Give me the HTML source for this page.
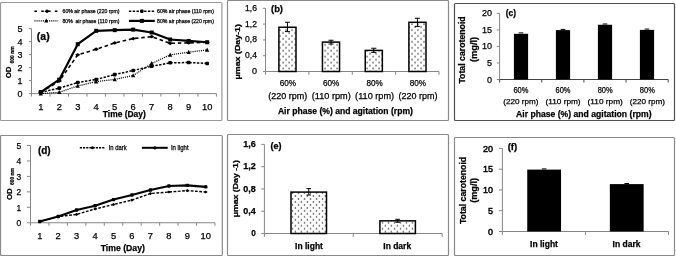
<!DOCTYPE html>
<html><head><meta charset="utf-8"><style>
html,body{margin:0;padding:0;background:#fff;width:676px;height:256px;overflow:hidden;}
svg{display:block;font-family:"Liberation Sans", sans-serif;will-change:transform;}
text{stroke:#000;stroke-width:0.25px;}
</style></head><body>
<svg xmlns="http://www.w3.org/2000/svg" width="676" height="256" viewBox="0 0 676 256">
<rect width="676" height="256" fill="#fff"/>
<rect x="0.50" y="2.50" width="221.40" height="118.00" fill="#fff" stroke="#9a9a9a" stroke-width="1.2" rx="1"/>
<rect x="227.50" y="0.50" width="221.00" height="120.00" fill="#fff" stroke="#8a8a8a" stroke-width="1.2" rx="1"/>
<rect x="454.50" y="3.50" width="220.00" height="117.00" fill="#fff" stroke="#505050" stroke-width="1.2" rx="1"/>
<rect x="0.50" y="135.50" width="221.80" height="120.00" fill="#fff" stroke="#8a8a8a" stroke-width="1.2" rx="1"/>
<rect x="227.50" y="134.50" width="221.00" height="121.00" fill="#fff" stroke="#8a8a8a" stroke-width="1.2" rx="1"/>
<rect x="454.50" y="137.50" width="220.00" height="118.00" fill="#fff" stroke="#8a8a8a" stroke-width="1.2" rx="1"/>
<line x1="31.50" y1="28.60" x2="31.50" y2="93.60" stroke="#868686" stroke-width="1"/>
<line x1="31.50" y1="93.60" x2="216.40" y2="93.60" stroke="#868686" stroke-width="1"/>
<line x1="29.00" y1="28.60" x2="31.50" y2="28.60" stroke="#868686" stroke-width="1"/>
<text x="22.50" y="32.04" font-size="9.6" text-anchor="end" fill="#000" textLength="5.0" lengthAdjust="spacingAndGlyphs">5</text>
<line x1="29.00" y1="41.60" x2="31.50" y2="41.60" stroke="#868686" stroke-width="1"/>
<text x="22.50" y="45.04" font-size="9.6" text-anchor="end" fill="#000" textLength="5.0" lengthAdjust="spacingAndGlyphs">4</text>
<line x1="29.00" y1="54.60" x2="31.50" y2="54.60" stroke="#868686" stroke-width="1"/>
<text x="22.50" y="58.04" font-size="9.6" text-anchor="end" fill="#000" textLength="5.0" lengthAdjust="spacingAndGlyphs">3</text>
<line x1="29.00" y1="67.60" x2="31.50" y2="67.60" stroke="#868686" stroke-width="1"/>
<text x="22.50" y="71.04" font-size="9.6" text-anchor="end" fill="#000" textLength="5.0" lengthAdjust="spacingAndGlyphs">2</text>
<line x1="29.00" y1="80.60" x2="31.50" y2="80.60" stroke="#868686" stroke-width="1"/>
<text x="22.50" y="84.04" font-size="9.6" text-anchor="end" fill="#000" textLength="5.0" lengthAdjust="spacingAndGlyphs">1</text>
<line x1="29.00" y1="93.60" x2="31.50" y2="93.60" stroke="#868686" stroke-width="1"/>
<text x="22.50" y="97.04" font-size="9.6" text-anchor="end" fill="#000" textLength="5.0" lengthAdjust="spacingAndGlyphs">0</text>
<line x1="31.50" y1="93.60" x2="31.50" y2="96.60" stroke="#868686" stroke-width="1"/>
<line x1="49.99" y1="93.60" x2="49.99" y2="96.60" stroke="#868686" stroke-width="1"/>
<line x1="68.48" y1="93.60" x2="68.48" y2="96.60" stroke="#868686" stroke-width="1"/>
<line x1="86.97" y1="93.60" x2="86.97" y2="96.60" stroke="#868686" stroke-width="1"/>
<line x1="105.46" y1="93.60" x2="105.46" y2="96.60" stroke="#868686" stroke-width="1"/>
<line x1="123.95" y1="93.60" x2="123.95" y2="96.60" stroke="#868686" stroke-width="1"/>
<line x1="142.44" y1="93.60" x2="142.44" y2="96.60" stroke="#868686" stroke-width="1"/>
<line x1="160.93" y1="93.60" x2="160.93" y2="96.60" stroke="#868686" stroke-width="1"/>
<line x1="179.42" y1="93.60" x2="179.42" y2="96.60" stroke="#868686" stroke-width="1"/>
<line x1="197.91" y1="93.60" x2="197.91" y2="96.60" stroke="#868686" stroke-width="1"/>
<line x1="216.40" y1="93.60" x2="216.40" y2="96.60" stroke="#868686" stroke-width="1"/>
<text x="40.75" y="109.90" font-size="9.6" text-anchor="middle" fill="#000" textLength="5.2" lengthAdjust="spacingAndGlyphs">1</text>
<text x="59.24" y="109.90" font-size="9.6" text-anchor="middle" fill="#000" textLength="5.2" lengthAdjust="spacingAndGlyphs">2</text>
<text x="77.73" y="109.90" font-size="9.6" text-anchor="middle" fill="#000" textLength="5.2" lengthAdjust="spacingAndGlyphs">3</text>
<text x="96.22" y="109.90" font-size="9.6" text-anchor="middle" fill="#000" textLength="5.2" lengthAdjust="spacingAndGlyphs">4</text>
<text x="114.71" y="109.90" font-size="9.6" text-anchor="middle" fill="#000" textLength="5.2" lengthAdjust="spacingAndGlyphs">5</text>
<text x="133.20" y="109.90" font-size="9.6" text-anchor="middle" fill="#000" textLength="5.2" lengthAdjust="spacingAndGlyphs">6</text>
<text x="151.69" y="109.90" font-size="9.6" text-anchor="middle" fill="#000" textLength="5.2" lengthAdjust="spacingAndGlyphs">7</text>
<text x="170.18" y="109.90" font-size="9.6" text-anchor="middle" fill="#000" textLength="5.2" lengthAdjust="spacingAndGlyphs">8</text>
<text x="188.67" y="109.90" font-size="9.6" text-anchor="middle" fill="#000" textLength="5.2" lengthAdjust="spacingAndGlyphs">9</text>
<text x="207.16" y="109.90" font-size="9.6" text-anchor="middle" fill="#000" textLength="10.4" lengthAdjust="spacingAndGlyphs">10</text>
<polyline points="40.75,93.60 59.24,92.30 77.73,85.93 96.22,81.64 114.71,79.43 133.20,75.53 151.69,63.44 170.18,54.86 188.67,52.13 207.16,49.92" fill="none" stroke="#000" stroke-width="1.2" stroke-linejoin="round" stroke-dasharray="1.1,1"/>
<path d="M38.65,95.40 L40.75,91.20 L42.85,95.40Z" fill="#000"/>
<path d="M57.14,94.10 L59.24,89.90 L61.34,94.10Z" fill="#000"/>
<path d="M75.63,87.73 L77.73,83.53 L79.83,87.73Z" fill="#000"/>
<path d="M94.12,83.44 L96.22,79.24 L98.31,83.44Z" fill="#000"/>
<path d="M112.61,81.23 L114.71,77.03 L116.81,81.23Z" fill="#000"/>
<path d="M131.10,77.33 L133.20,73.13 L135.30,77.33Z" fill="#000"/>
<path d="M149.59,65.24 L151.69,61.04 L153.78,65.24Z" fill="#000"/>
<path d="M168.08,56.66 L170.18,52.46 L172.28,56.66Z" fill="#000"/>
<path d="M186.57,53.93 L188.67,49.73 L190.77,53.93Z" fill="#000"/>
<path d="M205.06,51.72 L207.16,47.52 L209.26,51.72Z" fill="#000"/>
<polyline points="40.75,92.30 59.24,88.14 77.73,82.55 96.22,79.43 114.71,74.62 133.20,70.46 151.69,66.30 170.18,62.79 188.67,62.53 207.16,63.44" fill="none" stroke="#000" stroke-width="1.5" stroke-linejoin="round" stroke-dasharray="2.4,1.4"/>
<rect x="38.95" y="90.50" width="3.60" height="3.60" fill="#000" rx="0.8"/>
<rect x="57.44" y="86.34" width="3.60" height="3.60" fill="#000" rx="0.8"/>
<rect x="75.93" y="80.75" width="3.60" height="3.60" fill="#000" rx="0.8"/>
<rect x="94.42" y="77.63" width="3.60" height="3.60" fill="#000" rx="0.8"/>
<rect x="112.91" y="72.82" width="3.60" height="3.60" fill="#000" rx="0.8"/>
<rect x="131.40" y="68.66" width="3.60" height="3.60" fill="#000" rx="0.8"/>
<rect x="149.88" y="64.50" width="3.60" height="3.60" fill="#000" rx="0.8"/>
<rect x="168.38" y="60.99" width="3.60" height="3.60" fill="#000" rx="0.8"/>
<rect x="186.87" y="60.73" width="3.60" height="3.60" fill="#000" rx="0.8"/>
<rect x="205.36" y="61.64" width="3.60" height="3.60" fill="#000" rx="0.8"/>
<polyline points="40.75,92.30 59.24,81.12 77.73,54.86 96.22,49.27 114.71,42.90 133.20,38.61 151.69,36.66 170.18,43.29 188.67,42.90 207.16,42.25" fill="none" stroke="#000" stroke-width="1.6" stroke-linejoin="round" stroke-dasharray="3.5,2.8"/>
<path d="M38.15,92.30 L40.45,90.60 L41.05,90.60 L43.35,92.30 L41.05,94.00 L40.45,94.00Z" fill="#000"/>
<path d="M56.64,81.12 L58.94,79.42 L59.54,79.42 L61.84,81.12 L59.54,82.82 L58.94,82.82Z" fill="#000"/>
<path d="M75.13,54.86 L77.43,53.16 L78.03,53.16 L80.33,54.86 L78.03,56.56 L77.43,56.56Z" fill="#000"/>
<path d="M93.62,49.27 L95.92,47.57 L96.52,47.57 L98.81,49.27 L96.52,50.97 L95.92,50.97Z" fill="#000"/>
<path d="M112.11,42.90 L114.41,41.20 L115.01,41.20 L117.31,42.90 L115.01,44.60 L114.41,44.60Z" fill="#000"/>
<path d="M130.60,38.61 L132.90,36.91 L133.50,36.91 L135.80,38.61 L133.50,40.31 L132.90,40.31Z" fill="#000"/>
<path d="M149.09,36.66 L151.38,34.96 L151.99,34.96 L154.28,36.66 L151.99,38.36 L151.38,38.36Z" fill="#000"/>
<path d="M167.58,43.29 L169.88,41.59 L170.48,41.59 L172.78,43.29 L170.48,44.99 L169.88,44.99Z" fill="#000"/>
<path d="M186.07,42.90 L188.37,41.20 L188.97,41.20 L191.27,42.90 L188.97,44.60 L188.37,44.60Z" fill="#000"/>
<path d="M204.56,42.25 L206.86,40.55 L207.46,40.55 L209.76,42.25 L207.46,43.95 L206.86,43.95Z" fill="#000"/>
<polyline points="40.75,92.04 59.24,79.69 77.73,44.20 96.22,30.81 114.71,30.16 133.20,29.64 151.69,32.50 170.18,39.52 188.67,40.95 207.16,42.25" fill="none" stroke="#000" stroke-width="2.2" stroke-linejoin="round"/>
<rect x="38.75" y="90.04" width="4.00" height="4.00" fill="#000"/>
<rect x="57.24" y="77.69" width="4.00" height="4.00" fill="#000"/>
<rect x="75.73" y="42.20" width="4.00" height="4.00" fill="#000"/>
<rect x="94.22" y="28.81" width="4.00" height="4.00" fill="#000"/>
<rect x="112.71" y="28.16" width="4.00" height="4.00" fill="#000"/>
<rect x="131.20" y="27.64" width="4.00" height="4.00" fill="#000"/>
<rect x="149.69" y="30.50" width="4.00" height="4.00" fill="#000"/>
<rect x="168.18" y="37.52" width="4.00" height="4.00" fill="#000"/>
<rect x="186.67" y="38.95" width="4.00" height="4.00" fill="#000"/>
<rect x="205.16" y="40.25" width="4.00" height="4.00" fill="#000"/>
<text x="43.25" y="39.60" font-size="10.5" text-anchor="middle" fill="#000" font-weight="bold" textLength="12.8" lengthAdjust="spacingAndGlyphs">(a)</text>
<text x="124.30" y="116.60" font-size="9" text-anchor="middle" fill="#000" font-weight="bold" textLength="43" lengthAdjust="spacingAndGlyphs">Time (Day)</text>
<text x="11.50" y="78.30" font-size="8" text-anchor="start" fill="#000" font-weight="bold" textLength="11.7" lengthAdjust="spacingAndGlyphs" transform="rotate(-90 11.50 78.30)">OD</text>
<text x="13.60" y="63.40" font-size="5.5" text-anchor="start" fill="#000" font-weight="bold" textLength="17" lengthAdjust="spacingAndGlyphs" transform="rotate(-90 13.60 63.40)">600 nm</text>
<line x1="34.40" y1="11.20" x2="58.10" y2="11.20" stroke="#000" stroke-width="1.6" stroke-dasharray="2.6,4.2"/>
<path d="M44.40,11.20 L46.70,9.50 L47.30,9.50 L49.60,11.20 L47.30,12.90 L46.70,12.90Z" fill="#000"/>
<text x="62.50" y="13.10" font-size="5.5" text-anchor="start" fill="#000" textLength="57.0" lengthAdjust="spacingAndGlyphs">60% air phase (220 rpm)</text>
<line x1="34.40" y1="20.90" x2="58.10" y2="20.90" stroke="#000" stroke-width="1.2" stroke-dasharray="1.1,1"/>
<path d="M44.25,22.60 L46.25,18.60 L48.25,22.60Z" fill="#000"/>
<text x="62.50" y="22.80" font-size="5.5" text-anchor="start" fill="#000" textLength="57.0" lengthAdjust="spacingAndGlyphs">80%&#160; air phase (110 rpm)</text>
<line x1="128.90" y1="11.20" x2="154.80" y2="11.20" stroke="#000" stroke-width="1.5" stroke-dasharray="2.4,1.4"/>
<rect x="140.15" y="9.50" width="3.40" height="3.40" fill="#000" rx="0.8"/>
<text x="157.00" y="13.10" font-size="5.5" text-anchor="start" fill="#000" textLength="56.900000000000006" lengthAdjust="spacingAndGlyphs">60% air phase (110 rpm)</text>
<line x1="128.90" y1="20.90" x2="154.80" y2="20.90" stroke="#000" stroke-width="2.2"/>
<rect x="139.85" y="18.90" width="4.00" height="4.00" fill="#000"/>
<text x="157.00" y="22.80" font-size="5.5" text-anchor="start" fill="#000" textLength="56.900000000000006" lengthAdjust="spacingAndGlyphs">80% air phase (220 rpm)</text>
<line x1="30.50" y1="145.50" x2="30.50" y2="222.75" stroke="#868686" stroke-width="1"/>
<line x1="30.50" y1="222.75" x2="215.00" y2="222.75" stroke="#868686" stroke-width="1"/>
<line x1="26.90" y1="145.50" x2="30.50" y2="145.50" stroke="#868686" stroke-width="1"/>
<text x="21.20" y="148.94" font-size="9.6" text-anchor="end" fill="#000" textLength="4.7" lengthAdjust="spacingAndGlyphs">5</text>
<line x1="26.90" y1="160.95" x2="30.50" y2="160.95" stroke="#868686" stroke-width="1"/>
<text x="21.20" y="164.39" font-size="9.6" text-anchor="end" fill="#000" textLength="4.7" lengthAdjust="spacingAndGlyphs">4</text>
<line x1="26.90" y1="176.40" x2="30.50" y2="176.40" stroke="#868686" stroke-width="1"/>
<text x="21.20" y="179.84" font-size="9.6" text-anchor="end" fill="#000" textLength="4.7" lengthAdjust="spacingAndGlyphs">3</text>
<line x1="26.90" y1="191.85" x2="30.50" y2="191.85" stroke="#868686" stroke-width="1"/>
<text x="21.20" y="195.29" font-size="9.6" text-anchor="end" fill="#000" textLength="4.7" lengthAdjust="spacingAndGlyphs">2</text>
<line x1="26.90" y1="207.30" x2="30.50" y2="207.30" stroke="#868686" stroke-width="1"/>
<text x="21.20" y="210.74" font-size="9.6" text-anchor="end" fill="#000" textLength="4.7" lengthAdjust="spacingAndGlyphs">1</text>
<line x1="26.90" y1="222.75" x2="30.50" y2="222.75" stroke="#868686" stroke-width="1"/>
<text x="21.20" y="226.19" font-size="9.6" text-anchor="end" fill="#000" textLength="4.7" lengthAdjust="spacingAndGlyphs">0</text>
<line x1="30.50" y1="222.75" x2="30.50" y2="225.75" stroke="#868686" stroke-width="1"/>
<line x1="48.95" y1="222.75" x2="48.95" y2="225.75" stroke="#868686" stroke-width="1"/>
<line x1="67.40" y1="222.75" x2="67.40" y2="225.75" stroke="#868686" stroke-width="1"/>
<line x1="85.85" y1="222.75" x2="85.85" y2="225.75" stroke="#868686" stroke-width="1"/>
<line x1="104.30" y1="222.75" x2="104.30" y2="225.75" stroke="#868686" stroke-width="1"/>
<line x1="122.75" y1="222.75" x2="122.75" y2="225.75" stroke="#868686" stroke-width="1"/>
<line x1="141.20" y1="222.75" x2="141.20" y2="225.75" stroke="#868686" stroke-width="1"/>
<line x1="159.65" y1="222.75" x2="159.65" y2="225.75" stroke="#868686" stroke-width="1"/>
<line x1="178.10" y1="222.75" x2="178.10" y2="225.75" stroke="#868686" stroke-width="1"/>
<line x1="196.55" y1="222.75" x2="196.55" y2="225.75" stroke="#868686" stroke-width="1"/>
<line x1="215.00" y1="222.75" x2="215.00" y2="225.75" stroke="#868686" stroke-width="1"/>
<text x="39.73" y="238.90" font-size="9.6" text-anchor="middle" fill="#000" textLength="5.2" lengthAdjust="spacingAndGlyphs">1</text>
<text x="58.17" y="238.90" font-size="9.6" text-anchor="middle" fill="#000" textLength="5.2" lengthAdjust="spacingAndGlyphs">2</text>
<text x="76.62" y="238.90" font-size="9.6" text-anchor="middle" fill="#000" textLength="5.2" lengthAdjust="spacingAndGlyphs">3</text>
<text x="95.07" y="238.90" font-size="9.6" text-anchor="middle" fill="#000" textLength="5.2" lengthAdjust="spacingAndGlyphs">4</text>
<text x="113.53" y="238.90" font-size="9.6" text-anchor="middle" fill="#000" textLength="5.2" lengthAdjust="spacingAndGlyphs">5</text>
<text x="131.97" y="238.90" font-size="9.6" text-anchor="middle" fill="#000" textLength="5.2" lengthAdjust="spacingAndGlyphs">6</text>
<text x="150.42" y="238.90" font-size="9.6" text-anchor="middle" fill="#000" textLength="5.2" lengthAdjust="spacingAndGlyphs">7</text>
<text x="168.88" y="238.90" font-size="9.6" text-anchor="middle" fill="#000" textLength="5.2" lengthAdjust="spacingAndGlyphs">8</text>
<text x="187.32" y="238.90" font-size="9.6" text-anchor="middle" fill="#000" textLength="5.2" lengthAdjust="spacingAndGlyphs">9</text>
<text x="205.77" y="238.90" font-size="9.6" text-anchor="middle" fill="#000" textLength="10.4" lengthAdjust="spacingAndGlyphs">10</text>
<polyline points="39.73,221.51 58.17,216.57 76.62,214.41 95.07,209.00 113.53,204.52 131.97,200.04 150.42,193.55 168.88,192.00 187.32,190.61 205.77,192.00" fill="none" stroke="#000" stroke-width="1.4" stroke-linejoin="round" stroke-dasharray="2.8,1.5"/>
<path d="M37.83,221.51 L39.73,219.91 L41.62,221.51 L39.73,223.11Z" fill="#000"/>
<path d="M56.27,216.57 L58.17,214.97 L60.07,216.57 L58.17,218.17Z" fill="#000"/>
<path d="M74.73,214.41 L76.62,212.81 L78.52,214.41 L76.62,216.01Z" fill="#000"/>
<path d="M93.17,209.00 L95.07,207.40 L96.97,209.00 L95.07,210.60Z" fill="#000"/>
<path d="M111.63,204.52 L113.53,202.92 L115.42,204.52 L113.53,206.12Z" fill="#000"/>
<path d="M130.07,200.04 L131.97,198.44 L133.88,200.04 L131.97,201.64Z" fill="#000"/>
<path d="M148.52,193.55 L150.42,191.95 L152.32,193.55 L150.42,195.15Z" fill="#000"/>
<path d="M166.97,192.00 L168.88,190.40 L170.78,192.00 L168.88,193.60Z" fill="#000"/>
<path d="M185.42,190.61 L187.32,189.01 L189.22,190.61 L187.32,192.21Z" fill="#000"/>
<path d="M203.87,192.00 L205.77,190.40 L207.67,192.00 L205.77,193.60Z" fill="#000"/>
<polyline points="39.73,221.51 58.17,216.57 76.62,209.93 95.07,205.75 113.53,199.57 131.97,194.94 150.42,190.00 168.88,185.98 187.32,185.36 205.77,186.91" fill="none" stroke="#000" stroke-width="2.1" stroke-linejoin="round"/>
<rect x="38.02" y="219.81" width="3.40" height="3.40" fill="#000" rx="0.8"/>
<rect x="56.47" y="214.87" width="3.40" height="3.40" fill="#000" rx="0.8"/>
<rect x="74.92" y="208.23" width="3.40" height="3.40" fill="#000" rx="0.8"/>
<rect x="93.37" y="204.06" width="3.40" height="3.40" fill="#000" rx="0.8"/>
<rect x="111.83" y="197.88" width="3.40" height="3.40" fill="#000" rx="0.8"/>
<rect x="130.28" y="193.24" width="3.40" height="3.40" fill="#000" rx="0.8"/>
<rect x="148.72" y="188.30" width="3.40" height="3.40" fill="#000" rx="0.8"/>
<rect x="167.18" y="184.28" width="3.40" height="3.40" fill="#000" rx="0.8"/>
<rect x="185.62" y="183.66" width="3.40" height="3.40" fill="#000" rx="0.8"/>
<rect x="204.07" y="185.21" width="3.40" height="3.40" fill="#000" rx="0.8"/>
<text x="44.30" y="154.40" font-size="10.8" text-anchor="middle" fill="#000" font-weight="bold" textLength="12.8" lengthAdjust="spacingAndGlyphs">(d)</text>
<text x="122.80" y="250.70" font-size="9" text-anchor="middle" fill="#000" font-weight="bold" textLength="44.3" lengthAdjust="spacingAndGlyphs">Time (Day)</text>
<text x="11.50" y="200.00" font-size="8" text-anchor="start" fill="#000" font-weight="bold" textLength="11.7" lengthAdjust="spacingAndGlyphs" transform="rotate(-90 11.50 200.00)">OD</text>
<text x="13.60" y="185.00" font-size="5.5" text-anchor="start" fill="#000" font-weight="bold" textLength="17" lengthAdjust="spacingAndGlyphs" transform="rotate(-90 13.60 185.00)">600 nm</text>
<line x1="79.80" y1="147.80" x2="105.00" y2="147.80" stroke="#000" stroke-width="1.5" stroke-dasharray="2.2,1"/>
<circle cx="92.40" cy="147.80" r="1.50" fill="#000"/>
<text x="108.70" y="150.00" font-size="6.5" text-anchor="start" fill="#000" textLength="17.89999999999999" lengthAdjust="spacingAndGlyphs">In dark</text>
<line x1="141.90" y1="147.80" x2="167.70" y2="147.80" stroke="#000" stroke-width="2"/>
<circle cx="154.80" cy="147.80" r="1.60" fill="#000"/>
<text x="170.90" y="150.00" font-size="6.5" text-anchor="start" fill="#000" textLength="17.69999999999999" lengthAdjust="spacingAndGlyphs">In light</text>
<defs><pattern id="dots" width="6" height="5.94" patternUnits="userSpaceOnUse"><rect x="3.3" y="-0.35" width="1.4" height="1.4" fill="#444"/><rect x="3.3" y="5.59" width="1.4" height="1.4" fill="#444"/><rect x="0.4" y="2.55" width="1.4" height="1.4" fill="#444"/></pattern><pattern id="dots2" width="6" height="5.94" patternUnits="userSpaceOnUse"><rect x="0.7" y="-0.7" width="1.4" height="1.4" fill="#444"/><rect x="0.7" y="5.24" width="1.4" height="1.4" fill="#444"/><rect x="3.8" y="2.27" width="1.4" height="1.4" fill="#444"/></pattern></defs>
<line x1="265.50" y1="8.30" x2="265.50" y2="71.50" stroke="#868686" stroke-width="1"/>
<line x1="265.50" y1="71.50" x2="439.00" y2="71.50" stroke="#868686" stroke-width="1"/>
<line x1="263.00" y1="8.30" x2="265.50" y2="8.30" stroke="#868686" stroke-width="1"/>
<text x="256.90" y="10.70" font-size="9" text-anchor="end" fill="#000" textLength="11.9" lengthAdjust="spacingAndGlyphs">1,6</text>
<line x1="263.00" y1="24.10" x2="265.50" y2="24.10" stroke="#868686" stroke-width="1"/>
<text x="256.90" y="26.50" font-size="9" text-anchor="end" fill="#000" textLength="11.9" lengthAdjust="spacingAndGlyphs">1,2</text>
<line x1="263.00" y1="39.90" x2="265.50" y2="39.90" stroke="#868686" stroke-width="1"/>
<text x="256.90" y="42.30" font-size="9" text-anchor="end" fill="#000" textLength="11.9" lengthAdjust="spacingAndGlyphs">0,8</text>
<line x1="263.00" y1="55.70" x2="265.50" y2="55.70" stroke="#868686" stroke-width="1"/>
<text x="256.90" y="58.10" font-size="9" text-anchor="end" fill="#000" textLength="11.9" lengthAdjust="spacingAndGlyphs">0,4</text>
<line x1="263.00" y1="71.50" x2="265.50" y2="71.50" stroke="#868686" stroke-width="1"/>
<text x="256.90" y="73.90" font-size="9" text-anchor="end" fill="#000">0</text>
<line x1="265.50" y1="71.50" x2="265.50" y2="74.80" stroke="#868686" stroke-width="1"/>
<line x1="308.88" y1="71.50" x2="308.88" y2="74.80" stroke="#868686" stroke-width="1"/>
<line x1="352.25" y1="71.50" x2="352.25" y2="74.80" stroke="#868686" stroke-width="1"/>
<line x1="395.62" y1="71.50" x2="395.62" y2="74.80" stroke="#868686" stroke-width="1"/>
<line x1="439.00" y1="71.50" x2="439.00" y2="74.80" stroke="#868686" stroke-width="1"/>
<rect x="278.90" y="27.25" width="17.10" height="44.25" fill="url(#dots)" stroke="#000" stroke-width="1.5"/>
<line x1="287.45" y1="22.25" x2="287.45" y2="31.60" stroke="#000" stroke-width="1"/>
<line x1="284.95" y1="22.25" x2="289.95" y2="22.25" stroke="#000" stroke-width="1"/>
<line x1="284.95" y1="31.60" x2="289.95" y2="31.60" stroke="#000" stroke-width="1"/>
<rect x="322.45" y="42.10" width="17.10" height="29.40" fill="url(#dots)" stroke="#000" stroke-width="1.5"/>
<line x1="331.00" y1="40.25" x2="331.00" y2="44.00" stroke="#000" stroke-width="1"/>
<line x1="328.50" y1="40.25" x2="333.50" y2="40.25" stroke="#000" stroke-width="1"/>
<line x1="328.50" y1="44.00" x2="333.50" y2="44.00" stroke="#000" stroke-width="1"/>
<rect x="365.25" y="50.40" width="17.10" height="21.10" fill="url(#dots)" stroke="#000" stroke-width="1.5"/>
<line x1="373.80" y1="48.25" x2="373.80" y2="52.40" stroke="#000" stroke-width="1"/>
<line x1="371.30" y1="48.25" x2="376.30" y2="48.25" stroke="#000" stroke-width="1"/>
<line x1="371.30" y1="52.40" x2="376.30" y2="52.40" stroke="#000" stroke-width="1"/>
<rect x="408.90" y="22.30" width="17.10" height="49.20" fill="url(#dots)" stroke="#000" stroke-width="1.5"/>
<line x1="417.45" y1="18.25" x2="417.45" y2="26.40" stroke="#000" stroke-width="1"/>
<line x1="414.95" y1="18.25" x2="419.95" y2="18.25" stroke="#000" stroke-width="1"/>
<line x1="414.95" y1="26.40" x2="419.95" y2="26.40" stroke="#000" stroke-width="1"/>
<text x="287.84" y="86.00" font-size="9" text-anchor="middle" fill="#000" textLength="16.4" lengthAdjust="spacingAndGlyphs">60%</text>
<text x="287.84" y="99.10" font-size="9" text-anchor="middle" fill="#000" textLength="39.0" lengthAdjust="spacingAndGlyphs">(220 rpm)</text>
<text x="331.21" y="86.00" font-size="9" text-anchor="middle" fill="#000" textLength="16.4" lengthAdjust="spacingAndGlyphs">60%</text>
<text x="331.21" y="99.10" font-size="9" text-anchor="middle" fill="#000" textLength="39.0" lengthAdjust="spacingAndGlyphs">(110 rpm)</text>
<text x="374.59" y="86.00" font-size="9" text-anchor="middle" fill="#000" textLength="16.4" lengthAdjust="spacingAndGlyphs">80%</text>
<text x="374.59" y="99.10" font-size="9" text-anchor="middle" fill="#000" textLength="39.0" lengthAdjust="spacingAndGlyphs">(110 rpm)</text>
<text x="417.96" y="86.00" font-size="9" text-anchor="middle" fill="#000" textLength="16.4" lengthAdjust="spacingAndGlyphs">80%</text>
<text x="417.96" y="99.10" font-size="9" text-anchor="middle" fill="#000" textLength="39.0" lengthAdjust="spacingAndGlyphs">(220 rpm)</text>
<text x="345.40" y="114.30" font-size="9" text-anchor="middle" fill="#000" font-weight="bold" textLength="135" lengthAdjust="spacingAndGlyphs">Air phase (%) and agitation (rpm)</text>
<text x="277.00" y="11.80" font-size="9.3" text-anchor="middle" fill="#000" font-weight="bold" textLength="12.0" lengthAdjust="spacingAndGlyphs">(b)</text>
<text x="240.00" y="79.60" font-size="7.8" text-anchor="start" fill="#000" font-weight="bold" textLength="55.6" lengthAdjust="spacingAndGlyphs" transform="rotate(-90 240.00 79.60)">μmax (Day-1)</text>
<line x1="264.40" y1="144.40" x2="264.40" y2="233.50" stroke="#868686" stroke-width="1"/>
<line x1="264.40" y1="233.50" x2="442.20" y2="233.50" stroke="#868686" stroke-width="1"/>
<line x1="261.30" y1="144.40" x2="264.40" y2="144.40" stroke="#868686" stroke-width="1"/>
<text x="255.80" y="147.20" font-size="8.2" text-anchor="end" fill="#000" font-weight="bold" textLength="12.5" lengthAdjust="spacingAndGlyphs">1,6</text>
<line x1="261.30" y1="166.68" x2="264.40" y2="166.68" stroke="#868686" stroke-width="1"/>
<text x="255.80" y="169.48" font-size="8.2" text-anchor="end" fill="#000" font-weight="bold" textLength="12.5" lengthAdjust="spacingAndGlyphs">1,2</text>
<line x1="261.30" y1="188.95" x2="264.40" y2="188.95" stroke="#868686" stroke-width="1"/>
<text x="255.80" y="191.75" font-size="8.2" text-anchor="end" fill="#000" font-weight="bold" textLength="12.5" lengthAdjust="spacingAndGlyphs">0,8</text>
<line x1="261.30" y1="211.22" x2="264.40" y2="211.22" stroke="#868686" stroke-width="1"/>
<text x="255.80" y="214.03" font-size="8.2" text-anchor="end" fill="#000" font-weight="bold" textLength="12.5" lengthAdjust="spacingAndGlyphs">0,4</text>
<line x1="261.30" y1="233.50" x2="264.40" y2="233.50" stroke="#868686" stroke-width="1"/>
<text x="255.80" y="236.30" font-size="8.2" text-anchor="end" fill="#000" font-weight="bold">0</text>
<line x1="264.40" y1="233.50" x2="264.40" y2="236.80" stroke="#868686" stroke-width="1"/>
<line x1="353.30" y1="233.50" x2="353.30" y2="236.80" stroke="#868686" stroke-width="1"/>
<line x1="442.20" y1="233.50" x2="442.20" y2="236.80" stroke="#868686" stroke-width="1"/>
<rect x="291.00" y="192.10" width="35.50" height="41.40" fill="url(#dots2)" stroke="#000" stroke-width="1.5"/>
<line x1="308.75" y1="188.60" x2="308.75" y2="195.00" stroke="#000" stroke-width="1"/>
<line x1="306.50" y1="188.60" x2="311.00" y2="188.60" stroke="#000" stroke-width="1"/>
<line x1="306.50" y1="195.00" x2="311.00" y2="195.00" stroke="#000" stroke-width="1"/>
<rect x="379.90" y="220.85" width="35.50" height="12.65" fill="url(#dots2)" stroke="#000" stroke-width="1.5"/>
<line x1="397.65" y1="219.30" x2="397.65" y2="222.30" stroke="#000" stroke-width="1"/>
<line x1="395.40" y1="219.30" x2="399.90" y2="219.30" stroke="#000" stroke-width="1"/>
<line x1="395.40" y1="222.30" x2="399.90" y2="222.30" stroke="#000" stroke-width="1"/>
<text x="309.00" y="248.50" font-size="8.5" text-anchor="middle" fill="#000" font-weight="bold" textLength="27.8" lengthAdjust="spacingAndGlyphs">In light</text>
<text x="397.20" y="248.50" font-size="8.5" text-anchor="middle" fill="#000" font-weight="bold" textLength="27.8" lengthAdjust="spacingAndGlyphs">In dark</text>
<text x="276.00" y="148.50" font-size="9" text-anchor="middle" fill="#000" font-weight="bold" textLength="11.0" lengthAdjust="spacingAndGlyphs">(e)</text>
<text x="238.00" y="217.30" font-size="7.8" text-anchor="start" fill="#000" font-weight="bold" textLength="57.1" lengthAdjust="spacingAndGlyphs" transform="rotate(-90 238.00 217.30)">μmax (Day -1)</text>
<line x1="499.60" y1="13.40" x2="499.60" y2="79.50" stroke="#868686" stroke-width="1"/>
<line x1="499.60" y1="79.50" x2="668.20" y2="79.50" stroke="#444" stroke-width="1"/>
<line x1="496.80" y1="13.40" x2="499.60" y2="13.40" stroke="#868686" stroke-width="1"/>
<text x="492.10" y="16.40" font-size="9" text-anchor="end" fill="#000">20</text>
<line x1="496.80" y1="29.92" x2="499.60" y2="29.92" stroke="#868686" stroke-width="1"/>
<text x="492.10" y="32.92" font-size="9" text-anchor="end" fill="#000">15</text>
<line x1="496.80" y1="46.45" x2="499.60" y2="46.45" stroke="#868686" stroke-width="1"/>
<text x="492.10" y="49.45" font-size="9" text-anchor="end" fill="#000">10</text>
<line x1="496.80" y1="62.97" x2="499.60" y2="62.97" stroke="#868686" stroke-width="1"/>
<text x="492.10" y="65.97" font-size="9" text-anchor="end" fill="#000">5</text>
<line x1="496.80" y1="79.50" x2="499.60" y2="79.50" stroke="#868686" stroke-width="1"/>
<text x="492.10" y="82.50" font-size="9" text-anchor="end" fill="#000">0</text>
<line x1="499.60" y1="79.50" x2="499.60" y2="82.50" stroke="#444" stroke-width="1"/>
<line x1="541.75" y1="79.50" x2="541.75" y2="82.50" stroke="#444" stroke-width="1"/>
<line x1="583.90" y1="79.50" x2="583.90" y2="82.50" stroke="#444" stroke-width="1"/>
<line x1="626.05" y1="79.50" x2="626.05" y2="82.50" stroke="#444" stroke-width="1"/>
<line x1="668.20" y1="79.50" x2="668.20" y2="82.50" stroke="#444" stroke-width="1"/>
<rect x="513.90" y="33.80" width="14.20" height="45.70" fill="#000"/>
<line x1="518.70" y1="32.90" x2="523.30" y2="32.90" stroke="#000" stroke-width="1"/>
<rect x="555.90" y="30.10" width="14.20" height="49.40" fill="#000"/>
<line x1="560.70" y1="29.40" x2="565.30" y2="29.40" stroke="#000" stroke-width="1"/>
<rect x="597.90" y="24.75" width="14.20" height="54.75" fill="#000"/>
<line x1="602.70" y1="24.00" x2="607.30" y2="24.00" stroke="#000" stroke-width="1"/>
<rect x="639.90" y="29.90" width="14.20" height="49.60" fill="#000"/>
<line x1="644.70" y1="29.10" x2="649.30" y2="29.10" stroke="#000" stroke-width="1"/>
<text x="520.88" y="93.30" font-size="8.6" text-anchor="middle" fill="#000" textLength="15" lengthAdjust="spacingAndGlyphs">60%</text>
<text x="520.88" y="103.60" font-size="8" text-anchor="middle" fill="#000" textLength="35.2" lengthAdjust="spacingAndGlyphs">(220 rpm)</text>
<text x="563.03" y="93.30" font-size="8.6" text-anchor="middle" fill="#000" textLength="15" lengthAdjust="spacingAndGlyphs">60%</text>
<text x="563.03" y="103.60" font-size="8" text-anchor="middle" fill="#000" textLength="35.2" lengthAdjust="spacingAndGlyphs">(110 rpm)</text>
<text x="605.18" y="93.30" font-size="8.6" text-anchor="middle" fill="#000" textLength="15" lengthAdjust="spacingAndGlyphs">80%</text>
<text x="605.18" y="103.60" font-size="8" text-anchor="middle" fill="#000" textLength="35.2" lengthAdjust="spacingAndGlyphs">(110 rpm)</text>
<text x="647.33" y="93.30" font-size="8.6" text-anchor="middle" fill="#000" textLength="15" lengthAdjust="spacingAndGlyphs">80%</text>
<text x="647.33" y="103.60" font-size="8" text-anchor="middle" fill="#000" textLength="35.2" lengthAdjust="spacingAndGlyphs">(220 rpm)</text>
<text x="583.80" y="117.20" font-size="9" text-anchor="middle" fill="#000" font-weight="bold" textLength="135.5" lengthAdjust="spacingAndGlyphs">Air phase (%) and agitation (rpm)</text>
<text x="510.90" y="15.90" font-size="9" text-anchor="middle" fill="#000" font-weight="bold" textLength="10.2" lengthAdjust="spacingAndGlyphs">(c)</text>
<text x="465.50" y="83.60" font-size="9" text-anchor="start" fill="#000" font-weight="bold" textLength="67.3" lengthAdjust="spacingAndGlyphs" transform="rotate(-90 465.50 83.60)">Total carotenoid</text>
<text x="476.70" y="62.00" font-size="9" text-anchor="start" fill="#000" font-weight="bold" textLength="25.2" lengthAdjust="spacingAndGlyphs" transform="rotate(-90 476.70 62.00)">(mg/l)</text>
<line x1="502.40" y1="148.40" x2="502.40" y2="231.50" stroke="#868686" stroke-width="1"/>
<line x1="502.40" y1="231.50" x2="668.50" y2="231.50" stroke="#868686" stroke-width="1"/>
<line x1="499.00" y1="148.40" x2="502.40" y2="148.40" stroke="#868686" stroke-width="1"/>
<text x="493.00" y="151.60" font-size="9" text-anchor="end" fill="#000" style="stroke-width:0.45px">20</text>
<line x1="499.00" y1="169.18" x2="502.40" y2="169.18" stroke="#868686" stroke-width="1"/>
<text x="493.00" y="172.38" font-size="9" text-anchor="end" fill="#000" style="stroke-width:0.45px">15</text>
<line x1="499.00" y1="189.95" x2="502.40" y2="189.95" stroke="#868686" stroke-width="1"/>
<text x="493.00" y="193.15" font-size="9" text-anchor="end" fill="#000" style="stroke-width:0.45px">10</text>
<line x1="499.00" y1="210.72" x2="502.40" y2="210.72" stroke="#868686" stroke-width="1"/>
<text x="493.00" y="213.92" font-size="9" text-anchor="end" fill="#000" style="stroke-width:0.45px">5</text>
<line x1="499.00" y1="231.50" x2="502.40" y2="231.50" stroke="#868686" stroke-width="1"/>
<text x="493.00" y="234.70" font-size="9" text-anchor="end" fill="#000" style="stroke-width:0.45px">0</text>
<line x1="502.40" y1="231.50" x2="502.40" y2="235.00" stroke="#868686" stroke-width="1"/>
<line x1="585.45" y1="231.50" x2="585.45" y2="235.00" stroke="#868686" stroke-width="1"/>
<line x1="668.50" y1="231.50" x2="668.50" y2="235.00" stroke="#868686" stroke-width="1"/>
<rect x="527.25" y="169.60" width="33.80" height="61.90" fill="#000"/>
<line x1="541.85" y1="168.90" x2="546.45" y2="168.90" stroke="#000" stroke-width="1"/>
<rect x="609.85" y="184.10" width="33.80" height="47.40" fill="#000"/>
<line x1="624.45" y1="183.50" x2="629.05" y2="183.50" stroke="#000" stroke-width="1"/>
<text x="544.00" y="247.00" font-size="8.5" text-anchor="middle" fill="#000" font-weight="bold" textLength="27.8" lengthAdjust="spacingAndGlyphs">In light</text>
<text x="626.50" y="247.00" font-size="8.5" text-anchor="middle" fill="#000" font-weight="bold" textLength="27.8" lengthAdjust="spacingAndGlyphs">In dark</text>
<text x="512.45" y="150.20" font-size="9" text-anchor="middle" fill="#000" font-weight="bold" textLength="9.6" lengthAdjust="spacingAndGlyphs">(f)</text>
<text x="465.60" y="224.10" font-size="9" text-anchor="start" fill="#000" font-weight="bold" textLength="67.3" lengthAdjust="spacingAndGlyphs" transform="rotate(-90 465.60 224.10)">Total carotenoid</text>
<text x="476.90" y="202.80" font-size="9" text-anchor="start" fill="#000" font-weight="bold" textLength="24.8" lengthAdjust="spacingAndGlyphs" transform="rotate(-90 476.90 202.80)">(mg/l)</text>
</svg></body></html>
